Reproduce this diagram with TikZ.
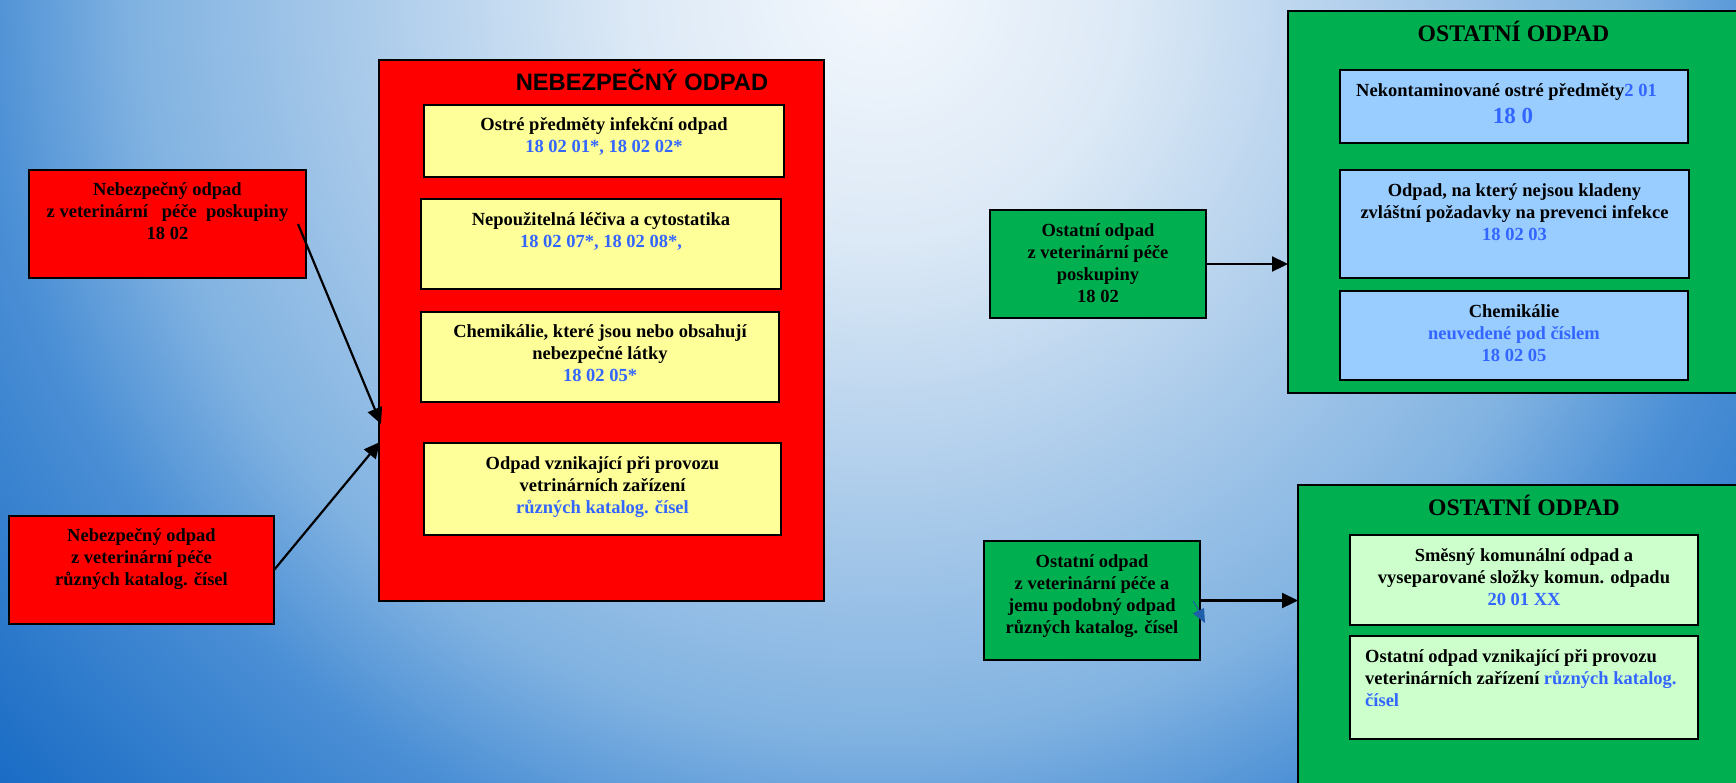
\documentclass[tikz,border=0pt]{standalone}
\usepackage{fontspec}
\setmainfont{Liberation Serif}
\newfontfamily\arialfont{Liberation Sans}
\usetikzlibrary{arrows.meta,calc}
\definecolor{bgA}{HTML}{F4F8FD}
\definecolor{bgB}{HTML}{DCE9F6}
\definecolor{bgC}{HTML}{AECDEB}
\definecolor{bgD}{HTML}{80B2E1}
\definecolor{bgE}{HTML}{4B8FD5}
\definecolor{bgF}{HTML}{1A6CC5}
\definecolor{cred}{HTML}{FF0000}
\definecolor{cyellow}{HTML}{FFFF99}
\definecolor{cgreen}{HTML}{00B050}
\definecolor{clblue}{HTML}{99CCFF}
\definecolor{clgreen}{HTML}{CCFFCC}
\definecolor{tblue}{HTML}{3366FF}
\definecolor{darrow}{HTML}{1F5FAA}
\pgfdeclareradialshading{bgshade}{\pgfpoint{0bp}{0bp}}{color(0bp)=(bgA); color(4.8bp)=(bgB); color(9.6bp)=(bgC); color(14.4bp)=(bgD); color(17.3bp)=(bgE); color(22.7bp)=(bgF); color(50bp)=(bgF)}
\begin{document}
\begin{tikzpicture}[x=1pt,y=-1pt,
  bx/.style={draw=black, line width=1.8pt, inner sep=0pt, outer sep=0pt},
  txt/.style={anchor=base, align=center, inner sep=0pt, font=\bfseries\fontsize{18.5}{22}\selectfont},
  arr/.style={line width=2.2pt, -{Triangle[length=16pt,width=15pt]}},
  gtitle/.style={anchor=base, inner sep=0pt, font=\bfseries\fontsize{23.7}{28}\selectfont}]
\useasboundingbox (0,0) rectangle (1736,782);
\begin{scope}
\clip (0,0) rectangle (1736,782);
\shade[shading=bgshade] (880,-10) circle[radius=1300pt];
\end{scope}

% left red boxes
\node[bx, fill=cred, minimum width=277pt, minimum height=108pt] (r1) at (167.5,224) {};
\node[bx, fill=cred, minimum width=265pt, minimum height=108pt] (r2) at (141.5,570) {};
\node[txt] at (167.5,239) {Nebezpečný odpad\\z veterinární\ \ \ péče\ \ poskupiny\\18 02};
\node[txt] at (141.5,585) {Nebezpečný odpad\\z veterinární péče\\různých katalog. čísel};

% big red box
\node[bx, fill=cred, minimum width=445pt, minimum height=541pt] (R) at (601.5,330.5) {};
\node[anchor=base, inner sep=0pt, font=\arialfont\bfseries\fontsize{23.7}{28}\selectfont] (Rt) at (642,90.5) {NEBEZPEČNÝ ODPAD};
\node[bx, fill=cyellow, minimum width=360pt, minimum height=72pt] (y1) at (604,141) {};
\node[bx, fill=cyellow, minimum width=360pt, minimum height=90pt] (y2) at (601,244) {};
\node[bx, fill=cyellow, minimum width=358pt, minimum height=90pt] (y3) at (600,357) {};
\node[bx, fill=cyellow, minimum width=357pt, minimum height=92pt] (y4) at (602.5,489) {};
\node[txt] at (604,152.4) {Ostré předměty infekční odpad\\\textcolor{tblue}{18 02 01*, 18 02 02*}};
\node[txt] at (601,247) {Nepoužitelná léčiva a cytostatika\\\textcolor{tblue}{18 02 07*, 18 02 08*,}};
\node[txt] at (600,381) {Chemikálie, které jsou nebo obsahují\\nebezpečné látky\\\textcolor{tblue}{18 02 05*}};
\node[txt] at (602.5,513) {Odpad vznikající při provozu\\vetrinárních zařízení\\\textcolor{tblue}{různých katalog. čísel}};

\draw[arr] ($(r1.east)+(-8,0)$) -- ($(R.west)+(2,93.5)$);
\draw[arr] (r2.east) -- ($(R.west)+(1,111.5)$);

% upper right
\node[bx, fill=cgreen, minimum width=462pt, minimum height=382pt] (G1) at (1519,202) {};
\node[gtitle] at (1513.5,41) {OSTATNÍ ODPAD};
\node[bx, fill=clblue, minimum width=348pt, minimum height=73pt] (b1) at (1514,106.5) {};
\node[bx, fill=clblue, minimum width=349pt, minimum height=108pt] (b2) at (1514.5,224) {};
\node[bx, fill=clblue, minimum width=348pt, minimum height=89pt] (b3) at (1514,335.5) {};
\node[txt] at (1506.5,96) {Nekontaminované ostré předměty\textcolor{tblue}{2 01}};
\node[txt, text=tblue, font=\bfseries\fontsize{23}{26}\selectfont] at (1513,123) {18 0};
\node[txt] at (1514.5,240) {Odpad, na který nejsou kladeny\\zvláštní požadavky na prevenci infekce\\\textcolor{tblue}{18 02 03}};
\node[txt] at (1514,361) {Chemikálie\\\textcolor{tblue}{neuvedené pod číslem}\\\textcolor{tblue}{18 02 05}};
\node[bx, fill=cgreen, minimum width=216pt, minimum height=108pt] (g1) at (1098,264) {};
\node[txt] at (1098,302) {Ostatní odpad\\z veterinární péče\\poskupiny\\18 02};
\draw[arr] (g1.east) -- (G1.west |- g1.east);

% lower right
\node[bx, fill=cgreen, minimum width=452pt, minimum height=315pt] (G2) at (1524,642.5) {};
\node[gtitle] at (1524,515) {OSTATNÍ ODPAD};
\node[bx, fill=clgreen, minimum width=348pt, minimum height=90pt] (c1) at (1524,580) {};
\node[bx, fill=clgreen, minimum width=348pt, minimum height=103pt] (c2) at (1524,687.5) {};
\node[txt] at (1524,605) {Směsný komunální odpad a\\vyseparované složky komun. odpadu\\\textcolor{tblue}{20 01 XX}};
\node[txt, align=left, anchor=base west] at (1365,706) {Ostatní odpad vznikající při provozu\\veterinárních zařízení \textcolor{tblue}{různých katalog.}\\\textcolor{tblue}{čísel}};
\node[bx, fill=cgreen, minimum width=216pt, minimum height=119pt] (g2) at (1092,600.5) {};
\node[txt] at (1092,633) {Ostatní odpad\\z veterinární péče a\\jemu podobný odpad\\různých katalog. čísel};
\draw[arr] (g2.east) -- (G2.west |- g2.east);
\fill[darrow] ($(g2.east)+(-7.3,12.8)$) -- ($(g2.east)+(4,7.5)$) -- ($(g2.east)+(5,22.5)$) -- cycle;
\draw[darrow, line width=1pt] ($(g2.east)+(-7,0.5)$) -- ($(g2.east)+(0,11.5)$);
\end{tikzpicture}
\end{document}
